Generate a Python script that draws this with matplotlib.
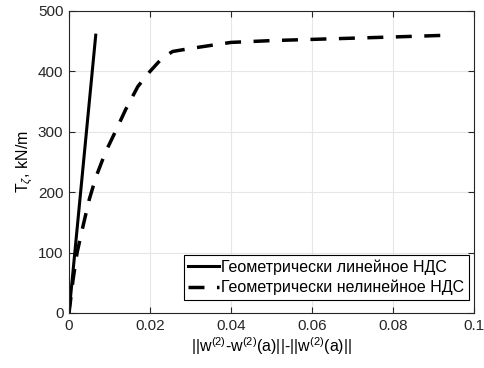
import matplotlib

matplotlib.use("Agg")

import matplotlib.pyplot as plt

# Dados
lin_x = [0.0, 0.0066]
lin_y = [0, 460]

nl_x = [0.0, 0.001, 0.002, 0.0035, 0.005, 0.0067, 0.009, 0.0115, 0.014, 0.017, 0.02,
        0.023, 0.0256, 0.03, 0.035, 0.04, 0.05, 0.06, 0.07, 0.08, 0.094]
nl_y = [0, 55, 100, 145, 188, 226, 266, 301, 337, 375, 400,
        422, 433, 438, 443, 448, 451, 453, 455, 457, 460]

x_ticks = [0, 0.02, 0.04, 0.06, 0.08, 0.1]
x_tick_labels = ["0", "0.02", "0.04", "0.06", "0.08", "0.1"]
y_ticks = [0, 100, 200, 300, 400, 500]

plt.rcParams["font.family"] = ["Liberation Sans", "DejaVu Sans"]
plt.rcParams["mathtext.fontset"] = "custom"
plt.rcParams["mathtext.rm"] = "Liberation Sans"
plt.rcParams["mathtext.it"] = "Liberation Sans:italic"

fig = plt.figure(figsize=(4.84, 3.68), dpi=100)
# Posicao dos eixos em pixels da referencia.
ax = fig.add_axes([69 / 484, 1 - 313 / 368, 405 / 484, 302 / 368])

ax.plot(lin_x, lin_y, color="black", linewidth=2.2, label="Геометрически линейное НДС")
ax.plot(nl_x, nl_y, color="black", linewidth=2.5, linestyle=(0, (4.6, 3.6)),
        label="Геометрически нелинейное НДС")

ax.set_xlim(0, 0.1)
ax.set_ylim(0, 500)
ax.set_xticks(x_ticks)
ax.set_xticklabels(x_tick_labels)
ax.set_yticks(y_ticks)
ax.tick_params(direction="in", length=4, labelsize=11, colors="#262626", top=True, right=True,
               labeltop=False, labelright=False, pad=4)
ax.grid(True, color="#e6e6e6", linewidth=0.8)
ax.set_axisbelow(True)
for spine in ax.spines.values():
    spine.set_color("#262626")
    spine.set_linewidth(0.8)

ax.set_xlabel(r"||w$^{(2)}$-w$^{(2)}$(a)||-||w$^{(2)}$(a)||", fontsize=11.5, labelpad=2)
ax.set_ylabel(r"T$_{\zeta}$, kN/m", fontsize=11.5, labelpad=2)

# Legenda encostada no canto inferior direito.
leg = ax.legend(loc="lower right", bbox_to_anchor=(0.988, 0.043), borderaxespad=0,
                fontsize=11.5, fancybox=False, framealpha=1, edgecolor="black",
                handlelength=1.9, handletextpad=0.15, borderpad=0.3, labelspacing=0.3)
leg.get_frame().set_linewidth(0.8)

fig.savefig("out.png", dpi=100)
